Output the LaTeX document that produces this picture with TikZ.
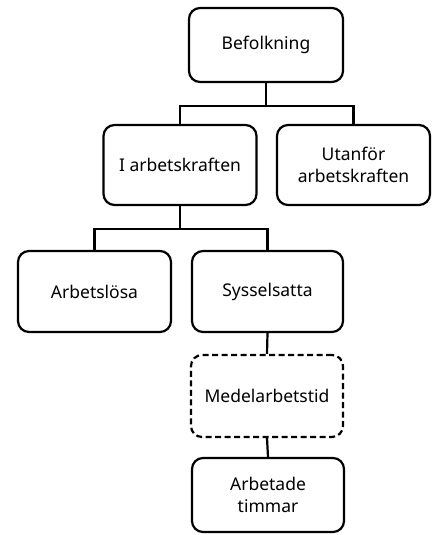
\documentclass[tikz,border=0pt]{standalone}
\usepackage{fontspec}
\setmainfont{Noto Sans}
\begin{document}
\begin{tikzpicture}[x=1pt,y=-1pt,
  box/.style={draw=black,line width=2.2pt,rounded corners=11pt,fill=white,
    minimum width=153pt,minimum height=80pt,align=center,inner sep=2pt,
    font=\fontsize{17.5pt}{22pt}\selectfont},
  conn/.style={draw=black,line width=2.2pt}]
\useasboundingbox (0,0) rectangle (436,535);
\node[box,minimum width=154pt,minimum height=74pt] (bef) at (266,45) {Befolkning};
\node[box] (ia) at (180,165) {I arbetskraften};
\node[box] (ut) at (353.5,165) {Utanför\\arbetskraften};
\node[box,minimum height=81pt] (al) at (94.5,291.5) {Arbetslösa};
\node[box,minimum width=151pt,minimum height=81pt] (sy) at (267.5,291.5) {Sysselsatta};
\node[box,dashed,dash pattern=on 6pt off 3.5pt,minimum width=152pt,minimum height=82pt] (me) at (267,396) {Medelarbetstid};
\node[box,minimum width=152pt,minimum height=74pt] (at) at (268,495) {Arbetade\\timmar};
\coordinate (j1) at (266,106);
\coordinate (j2) at (180,229);
\draw[conn] (bef.south) -- (j1);
\draw[conn] (ia.north) |- (j1) -| (ut.north);
\draw[conn] (ia.south) -- (j2);
\draw[conn] (al.north) |- (j2) -| (sy.north);
\draw[conn] (sy.south) -- (me.north);
\draw[conn] (me.south) -- (at.north);
\end{tikzpicture}
\end{document}
